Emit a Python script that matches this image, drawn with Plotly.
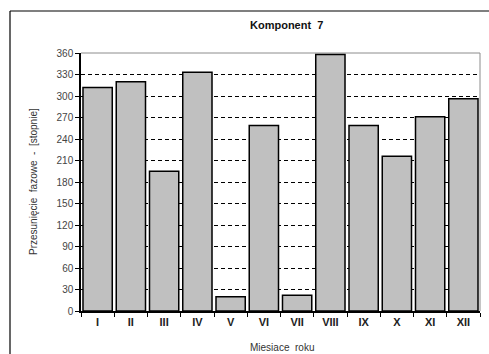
import plotly.graph_objects as go

# Phase shift of component 7 per month (degrees)
months = ["I", "II", "III", "IV", "V", "VI", "VII", "VIII", "IX", "X", "XI", "XII"]
phase_deg = [312, 320, 195, 333, 20, 259, 22, 358, 259, 216, 271, 296]
y_ticks = list(range(0, 361, 30))

W, H = 489, 354
L, R, T, B = 81, 9, 53, 43
pw, ph = W - L - R, H - T - B


def px_x(x):
    return (x - L) / pw


def px_y(y):
    return (H - B - y) / ph


fig = go.Figure(
    go.Bar(
        x=months,
        y=phase_deg,
        marker=dict(color="#c0c0c0", line=dict(color="black", width=1.5)),
        width=0.88,
    )
)

font = "Liberation Sans, Arial, sans-serif"

fig.update_layout(
    width=W,
    height=H,
    margin=dict(l=L, r=R, t=T, b=B),
    paper_bgcolor="white",
    plot_bgcolor="white",
    showlegend=False,
    font=dict(family=font, size=10, color="#333333"),
    bargap=0.12,
    xaxis=dict(
        showline=True,
        linecolor="black",
        linewidth=1.5,
        ticks="outside",
        ticklen=4,
        tickcolor="black",
        tickson="boundaries",
        showgrid=False,
        tickfont=dict(family=font, size=11, color="#222222", weight="bold"),
        range=[-0.5, 11.5],
    ),
    yaxis=dict(
        range=[0, 360],
        tickvals=y_ticks,
        showline=True,
        linecolor="black",
        linewidth=1.5,
        ticks="outside",
        ticklen=4,
        tickcolor="black",
        showgrid=True,
        gridcolor="black",
        gridwidth=1,
        griddash="4px,3px",
        zeroline=False,
        tickfont=dict(family=font, size=10, color="#444444"),
    ),
    shapes=[
        # outer chart frame: left and top edges
        dict(type="line", xref="paper", yref="paper",
             x0=px_x(10), x1=px_x(10), y0=px_y(354), y1=px_y(11),
             line=dict(color="black", width=1.2), layer="below"),
        dict(type="line", xref="paper", yref="paper",
             x0=px_x(10), x1=px_x(489), y0=px_y(11), y1=px_y(11),
             line=dict(color="black", width=1.2), layer="below"),
        # top and right edges of the plot area
        dict(type="line", xref="paper", yref="paper", x0=0, x1=1, y0=1, y1=1,
             line=dict(color="#8c8c8c", width=1), layer="below"),
        dict(type="line", xref="paper", yref="paper", x0=1, x1=1, y0=0, y1=1,
             line=dict(color="#8c8c8c", width=1), layer="below"),
    ],
    annotations=[
        dict(text="Komponent  7", xref="paper", yref="paper",
             x=px_x(286), y=px_y(25), showarrow=False,
             font=dict(family=font, size=11, color="#111111", weight="bold"),
             xanchor="center", yanchor="middle"),
        dict(text="Przesunięcie\u00a0\u00a0fazowe\u00a0\u00a0-\u00a0\u00a0[stopnie]",
             xref="paper", yref="paper", x=px_x(33), y=0.5, textangle=-90,
             showarrow=False, font=dict(family=font, size=10, color="#333333"),
             xanchor="center", yanchor="middle"),
        dict(text="Miesiace\u00a0\u00a0roku", xref="paper", yref="paper",
             x=px_x(282), y=px_y(347), showarrow=False,
             font=dict(family=font, size=10, color="#333333"),
             xanchor="center", yanchor="middle"),
    ],
)

fig.write_html("out.html")
